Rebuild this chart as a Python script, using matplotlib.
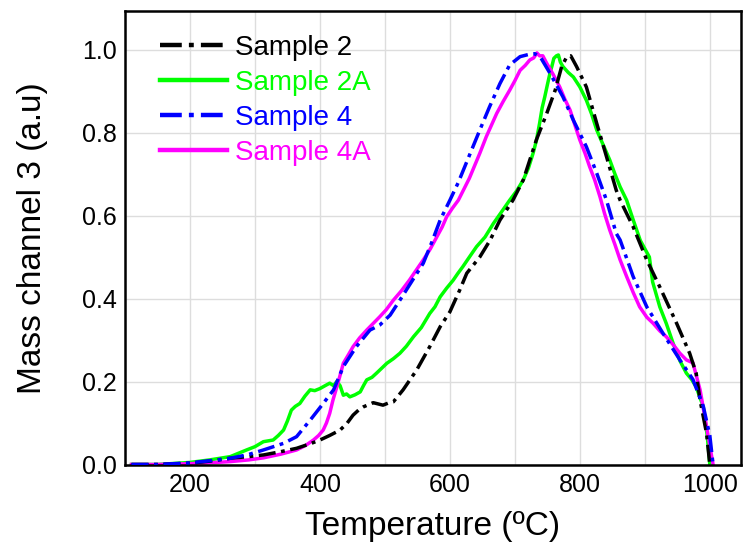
import numpy as np
import matplotlib
matplotlib.use("Agg")
import matplotlib.pyplot as plt
from matplotlib.ticker import MultipleLocator

plt.rcParams['font.family'] = ['Liberation Sans', 'DejaVu Sans']

# Sample 2 (black, dash-dot)
t_s2 = [110, 150, 200, 230, 262, 290, 313, 340, 364, 385, 400, 415, 431, 442, 451, 460, 467,
        482, 497, 505, 513, 528, 549, 569, 585, 600, 615, 626, 646, 662, 677, 697, 713, 733,
        749, 762, 772, 780, 786, 795, 810, 826, 841, 856, 862, 882, 903, 923, 949, 969, 979,
        985, 995, 1000]
y_s2 = [0, 0, 0.003, 0.008, 0.015, 0.019, 0.023, 0.031, 0.039, 0.05, 0.059, 0.07, 0.083, 0.1,
        0.119, 0.132, 0.139, 0.149, 0.143, 0.148, 0.151, 0.18, 0.228, 0.284, 0.332, 0.368, 0.42,
        0.461, 0.50, 0.541, 0.589, 0.637, 0.686, 0.782, 0.846, 0.902, 0.959, 0.983, 0.985,
        0.959, 0.91, 0.822, 0.742, 0.661, 0.637, 0.573, 0.493, 0.428, 0.34, 0.268, 0.22,
        0.155, 0.075, 0.0]

# Sample 2A (green)
t_s2a = [110, 150, 200, 230, 262, 287, 300, 313, 328, 336, 344, 350, 356, 362, 369, 377, 385,
         392, 400, 408, 415, 421, 426, 431, 436, 441, 446, 454, 462, 467, 472, 480, 487, 495,
         503, 513, 523, 533, 544, 556, 569, 577, 585, 595, 605, 612, 620, 630, 641, 654, 667,
         680, 692, 703, 713, 721, 728, 733, 738, 742, 746, 750, 754, 757, 760, 764, 767, 770,
         774, 782, 790, 800, 810, 818, 826, 836, 846, 854, 862, 872, 882, 893, 900, 907, 912,
         923, 933, 944, 954, 964, 972, 979, 990, 996, 1000]
y_s2a = [0, 0, 0.005, 0.011, 0.019, 0.035, 0.043, 0.055, 0.059, 0.07, 0.083, 0.105, 0.131,
         0.14, 0.147, 0.165, 0.18, 0.178, 0.183, 0.19, 0.196, 0.19, 0.2, 0.19, 0.167, 0.17,
         0.163, 0.168, 0.175, 0.19, 0.204, 0.21, 0.22, 0.232, 0.244, 0.255, 0.268, 0.285, 0.308,
         0.33, 0.364, 0.38, 0.404, 0.425, 0.444, 0.46, 0.477, 0.5, 0.525, 0.548, 0.581, 0.61,
         0.637, 0.66, 0.686, 0.715, 0.75, 0.78, 0.822, 0.86, 0.886, 0.915, 0.943, 0.96, 0.979,
         0.985, 0.987, 0.97, 0.959, 0.945, 0.934, 0.91, 0.878, 0.845, 0.806, 0.77, 0.734, 0.7,
         0.669, 0.637, 0.59, 0.54, 0.52, 0.50, 0.44, 0.38, 0.34, 0.29, 0.25, 0.22, 0.205,
         0.187, 0.139, 0.07, 0.0]

# Sample 4 (blue, dash-dot)
t_s4 = [110, 150, 200, 230, 262, 290, 313, 344, 364, 385, 405, 421, 436, 456, 477, 492, 508,
        523, 540, 559, 572, 585, 600, 613, 630, 646, 661, 677, 692, 708, 723, 731, 740, 754,
        774, 790, 810, 826, 841, 856, 862, 882, 903, 928, 954, 974, 990, 1000, 1005]
y_s4 = [0, 0, 0.004, 0.009, 0.015, 0.024, 0.035, 0.051, 0.067, 0.107, 0.147, 0.18, 0.236,
        0.284, 0.324, 0.336, 0.36, 0.396, 0.438, 0.485, 0.535, 0.589, 0.637, 0.68, 0.745,
        0.806, 0.862, 0.918, 0.963, 0.983, 0.989, 0.99, 0.98, 0.943, 0.886, 0.83, 0.766,
        0.702, 0.637, 0.557, 0.541, 0.453, 0.38, 0.316, 0.252, 0.205, 0.14, 0.07, 0.0]

# Sample 4A (magenta)
t_s4a = [110, 150, 200, 230, 262, 290, 313, 340, 364, 378, 390, 398, 405, 410, 415, 420, 426,
         431, 436, 444, 451, 461, 472, 482, 492, 502, 513, 525, 538, 548, 559, 570, 580, 588,
         595, 604, 613, 622, 630, 638, 646, 651, 656, 664, 672, 682, 692, 700, 708, 716, 723,
         729, 734, 738, 743, 749, 759, 769, 777, 785, 792, 800, 808, 815, 823, 831, 838, 846,
         854, 862, 872, 882, 892, 903, 913, 923, 933, 944, 954, 964, 974, 985, 995, 1005]
y_s4a = [0, 0, 0.002, 0.004, 0.007, 0.011, 0.016, 0.025, 0.035, 0.046, 0.059, 0.07, 0.083, 0.1,
         0.123, 0.155, 0.187, 0.215, 0.244, 0.265, 0.284, 0.305, 0.324, 0.34, 0.356, 0.373,
         0.396, 0.418, 0.445, 0.468, 0.493, 0.52, 0.549, 0.572, 0.597, 0.618, 0.637, 0.665,
         0.69, 0.72, 0.75, 0.77, 0.79, 0.818, 0.846, 0.875, 0.902, 0.925, 0.95, 0.962, 0.975,
         0.98, 0.992, 0.985, 0.985, 0.967, 0.94, 0.91, 0.88, 0.854, 0.82, 0.782, 0.75, 0.718,
         0.685, 0.645, 0.605, 0.565, 0.53, 0.493, 0.453, 0.415, 0.38, 0.355, 0.34, 0.322, 0.308,
         0.288, 0.268, 0.252, 0.245, 0.18, 0.091, 0.0]

labels = ["Sample 2", "Sample 2A", "Sample 4", "Sample 4A"]
colors = ["black", "#00ff00", "#0000ff", "#ff00ff"]

dashdot = (0, (4.9, 1.6, 1.1, 1.6))

fig = plt.figure(figsize=(7.44, 5.54), dpi=100)
ax = fig.add_axes([125 / 744, 1 - 464.5 / 554, 616 / 744, 453.5 / 554])

lw = 2.5
ax.plot(t_s2, y_s2, color=colors[0], lw=lw, linestyle=dashdot, label=labels[0], zorder=3)
ax.plot(t_s2a, y_s2a, color=colors[1], lw=lw, label=labels[1], zorder=2)
ax.plot(t_s4, y_s4, color=colors[2], lw=lw, linestyle=dashdot, label=labels[2], zorder=3)
ax.plot(t_s4a, y_s4a, color=colors[3], lw=lw, label=labels[3], zorder=2)

ax.set_xlim(100, 1048)
ax.set_ylim(0, 1.093)
ax.xaxis.set_major_locator(MultipleLocator(200))
ax.xaxis.set_minor_locator(MultipleLocator(100))
ax.yaxis.set_major_locator(MultipleLocator(0.2))
ax.yaxis.set_major_formatter(matplotlib.ticker.FormatStrFormatter('%.1f'))
ax.grid(True, which='major', color='#dddddd', lw=1)
ax.grid(True, which='minor', axis='x', color='#dddddd', lw=1)
ax.set_axisbelow(True)
ax.tick_params(which='both', length=0, labelsize=18, pad=6)
for s in ax.spines.values():
    s.set_linewidth(1.8)

ax.set_xlabel("Temperature (ºC)", fontsize=24, labelpad=10)
ax.set_ylabel("Mass channel 3 (a.u)", fontsize=24, labelpad=24)

leg = ax.legend(loc='upper left', bbox_to_anchor=(0.057, 0.947), frameon=False,
                fontsize=20, borderpad=0, labelspacing=0.32, handlelength=2.4,
                handletextpad=0.3, borderaxespad=0)
for txt, c in zip(leg.get_texts(), colors):
    txt.set_color(c)
for h in leg.get_lines():
    h.set_linewidth(3.2)

fig.savefig("out.png", dpi=100)
